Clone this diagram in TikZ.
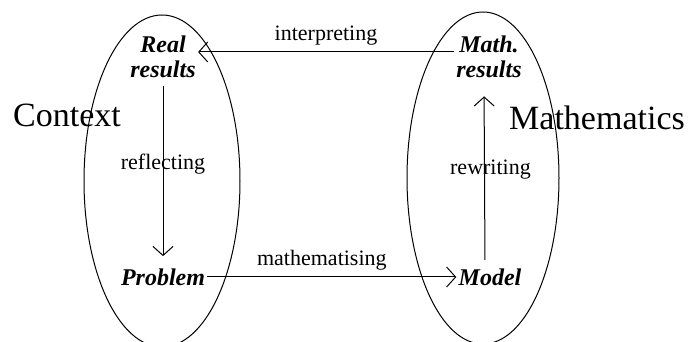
\documentclass[tikz,border=0pt]{standalone}
\usepackage{fontspec}
\setmainfont{Liberation Serif}
\usetikzlibrary{arrows.meta, positioning, calc}

\begin{document}
\begin{tikzpicture}[x=0.5pt, y=-0.5pt,
  stage/.style={font=\fontsize{12}{12.5}\selectfont\bfseries\itshape, align=center, inner sep=1pt},
  actlabel/.style={font=\fontsize{11}{12}\selectfont},
  world/.style={font=\fontsize{17}{19}\selectfont},
  flow/.style={-{Straight Barb[length=4.5pt,width=10pt]}, line width=0.5pt}]
\useasboundingbox (0,0) rectangle (692,342);
% the two worlds
\draw[line width=0.5pt] (162,181) ellipse [x radius=39pt, y radius=83pt];
\draw[line width=0.5pt] (483,178) ellipse [x radius=38pt, y radius=83pt];
\node[world] (context) at (67,115) {Context};
\node[world] (maths) at (597,118) {Mathematics};
% stages of the cycle
\node[stage] (realres) at (163,57) {Real\\results};
\node[stage] (mathres) at (489,57) {Math.\\results};
\node[stage] (problem) at (163,277) {Problem};
\node[stage] (model) at (490,277) {Model};
% steps between them
\draw[flow] (problem.east) -- node[actlabel, above, pos=0.46] {mathematising} (model.west);
\draw[flow, shorten <=3pt, shorten >=8pt] ([xshift=-2.5pt]model.north) -- node[actlabel, pos=0.52, xshift=3pt] {rewriting} ([xshift=-2.5pt]mathres.south);
\draw[flow] ([yshift=2.5pt]mathres.west) -- node[actlabel, above] {interpreting} ([yshift=2.5pt]realres.east);
\draw[flow, shorten <=3pt, shorten >=5pt] (realres.south) -- node[actlabel, pos=0.45] {reflecting} (problem.north);
\end{tikzpicture}
\end{document}
